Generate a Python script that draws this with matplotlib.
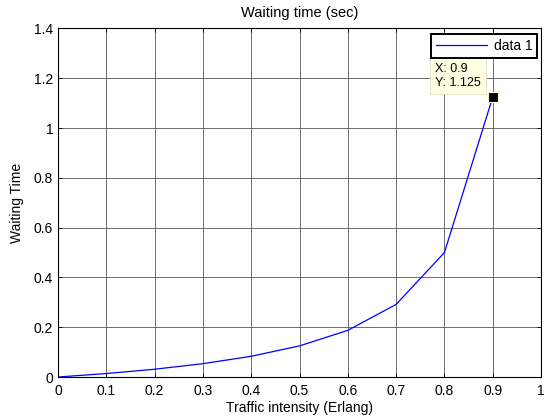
import matplotlib
matplotlib.use("Agg")
import matplotlib.pyplot as plt

plt.rcParams['font.family'] = ['Liberation Sans', 'DejaVu Sans']

traffic = [0, 0.1, 0.2, 0.3, 0.4, 0.5, 0.6, 0.7, 0.8, 0.9]
waiting = [0, 0.0139, 0.03125, 0.0536, 0.0833, 0.125, 0.1875, 0.2917, 0.5, 1.125]
tip_x, tip_y = 0.9, 1.125

fig = plt.figure(figsize=(5.44, 4.17), dpi=100)
ax = fig.add_axes([0.1066, 0.0959, 0.888, 0.8358])

ax.plot(traffic, waiting, color='#0000ff', lw=0.9, label='data 1')
ax.plot([tip_x], [tip_y], marker='s', ms=6.5, color='black',
        markeredgecolor='#ffffe0', markeredgewidth=0.8, ls='none', zorder=5)

ax.set_xlim(0, 1)
ax.set_ylim(0, 1.4)
ax.set_xticks([0, 0.1, 0.2, 0.3, 0.4, 0.5, 0.6, 0.7, 0.8, 0.9, 1])
ax.set_xticklabels(['0', '0.1', '0.2', '0.3', '0.4', '0.5', '0.6', '0.7', '0.8', '0.9', '1'])
ax.set_yticks([0, 0.2, 0.4, 0.6, 0.8, 1, 1.2, 1.4])
ax.set_yticklabels(['0', '0.2', '0.4', '0.6', '0.8', '1', '1.2', '1.4'])
ax.tick_params(direction='in', top=True, right=True, labelsize=10, length=3, width=0.6)
ax.tick_params(axis='x', pad=5)
ax.tick_params(axis='y', pad=3.5)
ax.grid(True, color='#555555', lw=0.6, ls='-')
for s in ax.spines.values():
    s.set_linewidth(0.8)

ax.set_title('Waiting time (sec)', fontsize=10.5, pad=8)
ax.set_xlabel('Traffic intensity (Erlang)', fontsize=10, labelpad=2)
ax.set_ylabel('Waiting Time', fontsize=10, labelpad=7)

leg = ax.legend(loc='upper right', fontsize=10, fancybox=False, framealpha=1,
                edgecolor='black', handlelength=3.7, borderpad=0.35,
                borderaxespad=0, handletextpad=0.45,
                bbox_to_anchor=(0.9917, 0.984))
leg.get_frame().set_linewidth(1.4)

ax.annotate(f'X: {tip_x}\nY: {tip_y}', xy=(tip_x, tip_y), xytext=(-41.5, 6.0),
            textcoords='offset points', fontsize=9, ha='left', va='bottom',
            linespacing=1.2,
            bbox=dict(boxstyle='square,pad=0.42', fc='#ffffe1', ec='#e0e0c8', lw=0.6))

fig.savefig('out.png', dpi=100)
